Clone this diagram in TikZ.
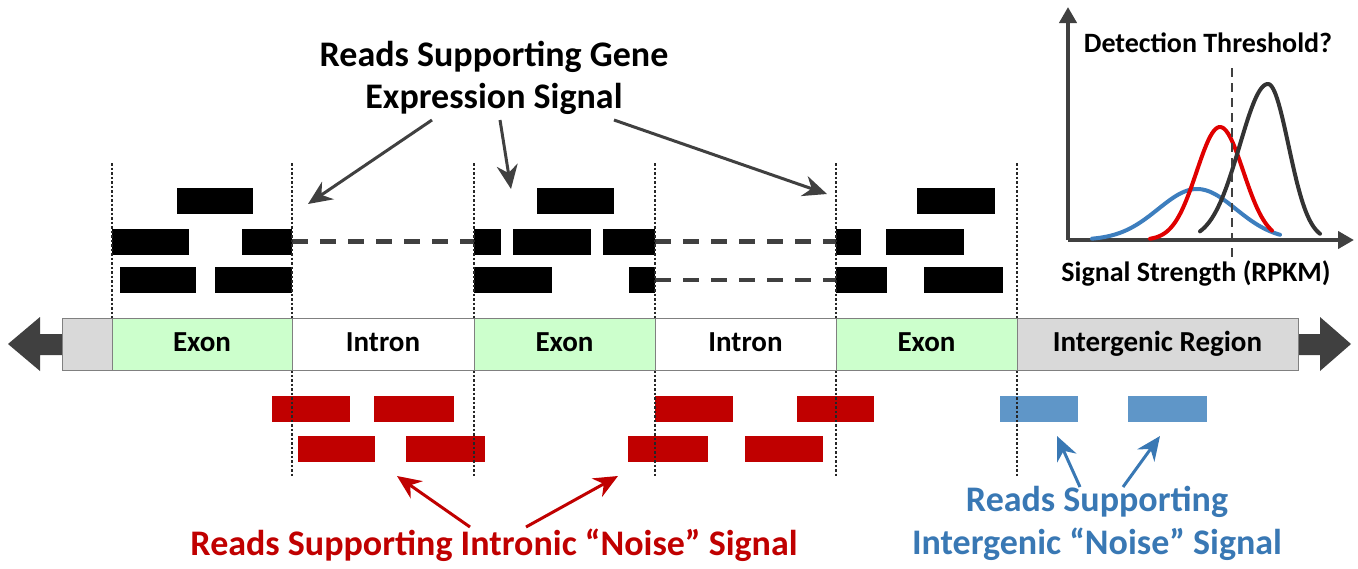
\documentclass[tikz,border=0pt]{standalone}
\usepackage{fontspec}
\setmainfont{Carlito}
\usetikzlibrary{arrows.meta, positioning}

\definecolor{darkgr}{HTML}{404040}
\definecolor{exongreen}{HTML}{CCFFCC}
\definecolor{lightgr}{HTML}{D9D9D9}
\definecolor{noisered}{HTML}{C00000}
\definecolor{noiseblue}{HTML}{5F96C8}
\definecolor{bluetext}{HTML}{3978B4}
\definecolor{curveblue}{HTML}{3D7EBE}
\definecolor{curvered}{HTML}{E00000}

\tikzset{
  readbox/.style={rectangle, inner sep=0pt, outer sep=0pt, minimum height=26pt},
  region/.style={draw=gray, line width=0.8pt, inner sep=0pt, minimum height=52pt,
    text height=20pt, text depth=6pt, font=\fontsize{29}{32}\selectfont\bfseries},
  split/.style={line width=2.2pt, black!85, dash pattern=on 2.5pt off 2pt},
  gap/.style={darkgr, line width=4.5pt, dash pattern=on 16pt off 12pt},
  pointer/.style={-{Stealth[length=24pt,width=21pt]}, line width=3pt},
  axis/.style={-{Triangle[length=16pt,width=17pt]}, line width=4pt, darkgr},
  curve/.style={line width=4pt, line join=round, line cap=round}
}

% one read: name, left x, right x, centre y, colour
\newcommand{\rd}[5]{\node[readbox, fill=#5, minimum width={(#3-#2)*1pt}] (#1) at ({(#2+#3)/2},#4) {};}

\begin{document}
\begin{tikzpicture}[x=1pt, y=-1pt]
\useasboundingbox (0,0) rectangle (1358,568);

% reads over the exons
\rd{ea1}{177}{253}{201}{black}
\rd{eb1}{112}{189}{241.5}{black}
\rd{eb2}{242}{292}{241.5}{black}
\rd{ec1}{120}{196}{280}{black}
\rd{ec2}{215}{292}{280}{black}

\rd{fa1}{537}{614}{201}{black}
\rd{fb1}{474}{501}{241.5}{black}
\rd{fb2}{513}{591}{241.5}{black}
\rd{fb3}{603}{655}{241.5}{black}
\rd{fc1}{474}{552}{280}{black}
\rd{fc2}{629}{655}{280}{black}

\rd{ga1}{917}{995}{201}{black}
\rd{gb1}{836}{861}{241.5}{black}
\rd{gb2}{886}{964}{241.5}{black}
\rd{gc1}{836}{887}{280}{black}
\rd{gc2}{924}{1003}{280}{black}

% spliced reads
\draw[gap] (eb2.east) -- (fb1.west);
\draw[gap] (fb3.east) -- (gb1.west);
\draw[gap] (fc2.east) -- (gc1.west);

% intronic reads
\rd{ia1}{272}{350}{409}{noisered}
\rd{ia2}{374}{454}{409}{noisered}
\rd{ib1}{298}{375}{449}{noisered}
\rd{ib2}{406}{485}{449}{noisered}
\rd{ja1}{655}{733}{409}{noisered}
\rd{ja2}{797}{874}{409}{noisered}
\rd{jb1}{628}{708}{449}{noisered}
\rd{jb2}{745}{823}{449}{noisered}

% intergenic reads
\rd{ka1}{1000}{1078}{409}{noiseblue}
\rd{ka2}{1128}{1207}{409}{noiseblue}

% boundaries
\foreach \x in {112,292,474,655,836,1017}
  \draw[split] (\x,163) -- (\x,318);
\foreach \x in {292,474,655,836,1017}
  \draw[split] (\x,370) -- (\x,476);

% the strand
\fill[darkgr] (62,334) -- (40,334) -- (40,317) -- (8,344) -- (40,371) -- (40,355) -- (62,355) -- cycle;
\fill[darkgr] (1298,334) -- (1320,334) -- (1320,317) -- (1351,344) -- (1320,371) -- (1320,355) -- (1298,355) -- cycle;
\node[region, fill=lightgr, minimum width=50pt] (cap) at (87,344) {};
\node[region, fill=exongreen, minimum width=180pt] (ex1) at (202,344) {Exon};
\node[region, fill=white, minimum width=182pt] (in1) at (383,344) {Intron};
\node[region, fill=exongreen, minimum width=181pt] (ex2) at (564.5,344) {Exon};
\node[region, fill=white, minimum width=181pt] (in2) at (745.5,344) {Intron};
\node[region, fill=exongreen, minimum width=181pt] (ex3) at (926.5,344) {Exon};
\node[region, fill=lightgr, minimum width=281pt] (igr) at (1157.5,344) {Intergenic Region};

% labels and pointers
\node[align=center, font=\fontsize{36}{42}\selectfont\bfseries] (gene) at (494,78) {Reads Supporting Gene\\Expression Signal};
\coordinate (g1) at (432,120);
\coordinate (g2) at (500,120);
\coordinate (g3) at (614,120);
\coordinate (h1) at (308,204);
\coordinate (h2) at (511,189);
\coordinate (h3) at (827,194);
\draw[pointer, darkgr] (g1) -- (h1);
\draw[pointer, darkgr] (g2) -- (h2);
\draw[pointer, darkgr] (g3) -- (h3);

\node[text=noisered, font=\fontsize{36}{40}\selectfont\bfseries] (intronic) at (494,545) {Reads Supporting Intronic “Noise” Signal};
\coordinate (r1) at (470,527);
\coordinate (r2) at (526,527);
\coordinate (s1) at (397,476);
\coordinate (s2) at (618,476);
\draw[pointer, noisered] (r1) -- (s1);
\draw[pointer, noisered] (r2) -- (s2);

\node[align=center, text=bluetext, font=\fontsize{36}{43}\selectfont\bfseries] (intergenic) at (1097,523) {Reads Supporting\\Intergenic “Noise” Signal};
\coordinate (b1) at (1080,487);
\coordinate (b2) at (1123,487);
\coordinate (c1) at (1057,436);
\coordinate (c2) at (1160,436);
\draw[pointer, bluetext] (b1) -- (c1);
\draw[pointer, bluetext] (b2) -- (c2);

% inset plot
\coordinate (o) at (1068,240);
\draw[axis] (o) -- (1068,7);
\draw[axis] (o) -- (1354,240);
\draw[curve, curveblue] plot[domain=1092:1280, samples=70] (\x, {240-51*exp(-((\x-1197)/55)^2)});
\draw[curve, curvered] plot[domain=1150:1272, samples=70] (\x, {240-113*exp(-((\x-1220)/33)^2)});
\draw[curve, black!80] plot[domain=1200:1268, samples=50] (\x, {240-156*exp(-((\x-1268)/40)^2)})
  -- plot[domain=1268:1320, samples=40] (\x, {240-156*exp(-((\x-1268)/29)^2)});
\draw[darkgr, dashed, line width=2.5pt, dash pattern=on 9pt off 6pt] (1232,68) -- (1232,257);
\node[font=\fontsize{28}{32}\selectfont\bfseries] (thresh) at (1208,43) {Detection Threshold?};
\node[font=\fontsize{28}{32}\selectfont\bfseries] (strength) at (1196,273) {Signal Strength (RPKM)};
\end{tikzpicture}
\end{document}
